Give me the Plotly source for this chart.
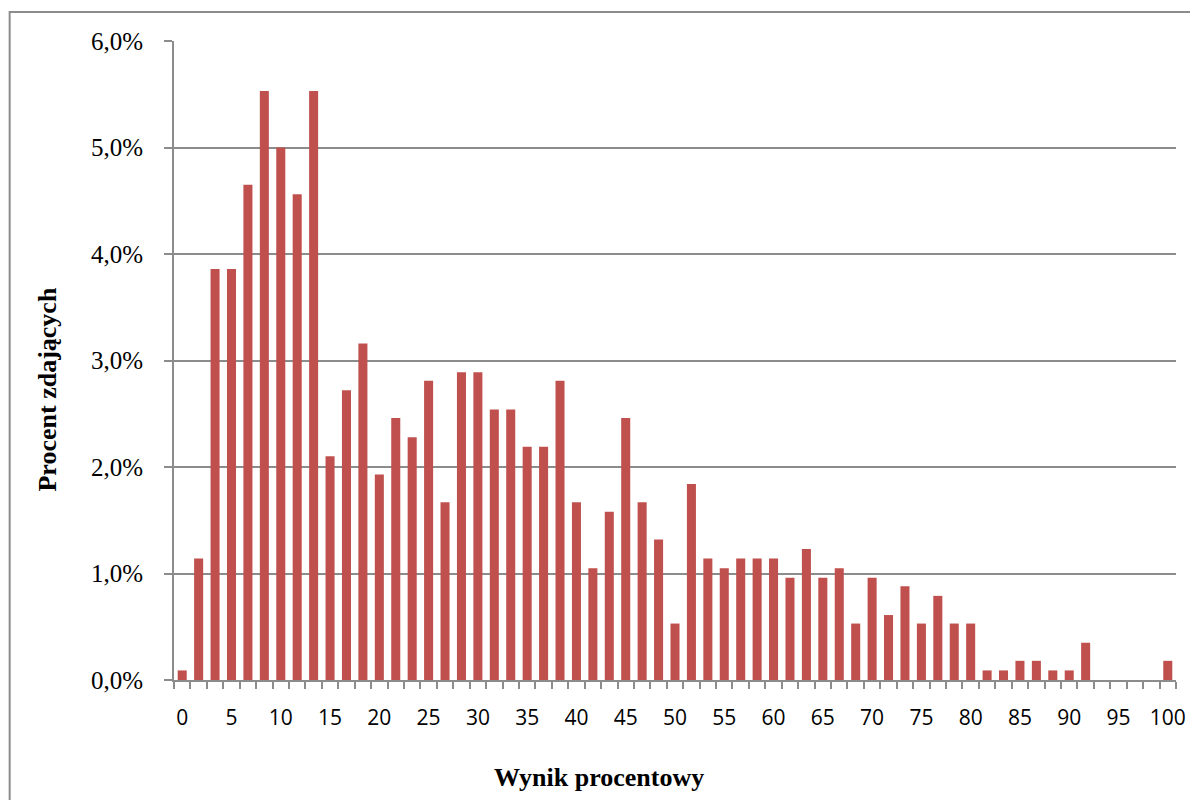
import plotly.graph_objects as go

# Number of points obtainable (scores 0..60 -> 0..100%)
max_points = 60
points = list(range(61))

# Percent of examinees for each score
percent_values = [
    0.09, 1.14, 3.86, 3.86, 4.65, 5.53, 5.00, 4.56, 5.53, 2.10,
    2.72, 3.16, 1.93, 2.46, 2.28, 2.81, 1.67, 2.89, 2.89, 2.54,
    2.54, 2.19, 2.19, 2.81, 1.67, 1.05, 1.58, 2.46, 1.67, 1.32,
    0.53, 1.84, 1.14, 1.05, 1.14, 1.14, 1.14, 0.96, 1.23, 0.96,
    1.05, 0.53, 0.96, 0.61, 0.88, 0.53, 0.79, 0.53, 0.53, 0.09,
    0.09, 0.18, 0.18, 0.09, 0.09, 0.35, 0.0, 0.0, 0.0, 0.0,
    0.18,
]

x_tick_values = [0, 5, 10, 15, 20, 25, 30, 35, 40, 45, 50,
                 55, 60, 65, 70, 75, 80, 85, 90, 95, 100]
x_tick_labels = [str(v) for v in x_tick_values]
y_tick_values = [0, 1, 2, 3, 4, 5, 6]
y_tick_labels = ["0,0%", "1,0%", "2,0%", "3,0%", "4,0%", "5,0%", "6,0%"]

x_title = "Wynik procentowy"
y_title = "Procent zdających"

scores = [p / max_points * 100 for p in points]
step = 100 / max_points

GRAY = "#8c8c8c"
SERIF = "Liberation Serif, Times New Roman, serif"

# page body has an 8px default margin; figure drawn in page coords minus 8
OFF = 8
W, H = 1198 - OFF, 800 - OFF
L, R, T, B = 174 - OFF, 18, 41 - OFF, 120
pw = W - L - R
ph = H - T - B


def px_x(x_page):
    return (x_page - OFF - L) / pw


def px_y(y_page):
    return (H - B - (y_page - OFF)) / ph


fig = go.Figure(
    go.Bar(
        x=scores,
        y=percent_values,
        width=step * 0.55,
        marker=dict(color="#C0504D", line=dict(width=0)),
        hoverinfo="x+y",
    )
)

fig.update_layout(
    width=W,
    height=H,
    margin=dict(l=L, r=R, t=T, b=B, pad=0),
    paper_bgcolor="white",
    plot_bgcolor="white",
    showlegend=False,
    xaxis=dict(
        range=[-step / 2, 100 + step / 2],
        tickmode="array",
        tickvals=x_tick_values,
        ticktext=x_tick_labels,
        ticks="",
        showgrid=False,
        showline=True,
        linecolor=GRAY,
        linewidth=2,
        zeroline=False,
        tickfont=dict(family="Open Sans, sans-serif", size=21, color="black"),
        ticklabelstandoff=18,
        minor=dict(
            tick0=-step / 2,
            dtick=step,
            ticks="outside",
            ticklen=7,
            tickwidth=1.5,
            tickcolor=GRAY,
            showgrid=False,
        ),
    ),
    yaxis=dict(
        range=[0, 6],
        tickmode="array",
        tickvals=y_tick_values,
        ticktext=y_tick_labels,
        ticks="outside",
        ticklen=8,
        tickwidth=1.5,
        tickcolor=GRAY,
        showgrid=True,
        gridcolor=GRAY,
        gridwidth=1.5,
        showline=True,
        linecolor=GRAY,
        linewidth=2,
        zeroline=False,
        tickfont=dict(family=SERIF, size=25, color="black"),
        ticklabelstandoff=16,
    ),
    annotations=[
        dict(
            text="<b>%s</b>" % x_title,
            xref="paper", yref="paper",
            x=px_x(601), y=px_y(777),
            xanchor="center", yanchor="middle",
            showarrow=False,
            font=dict(family=SERIF, size=26, color="black"),
        ),
        dict(
            text="<b>%s</b>" % y_title,
            xref="paper", yref="paper",
            x=px_x(46), y=px_y(390),
            xanchor="center", yanchor="middle",
            textangle=-90,
            showarrow=False,
            font=dict(family=SERIF, size=26, color="black"),
        ),
    ],
    shapes=[
        dict(
            type="rect",
            xref="paper", yref="paper",
            x0=px_x(9), x1=px_x(1215),
            y0=px_y(820), y1=px_y(12),
            line=dict(color=GRAY, width=2),
            fillcolor="rgba(0,0,0,0)",
            layer="below",
        )
    ],
)

fig.write_html("out.html")
